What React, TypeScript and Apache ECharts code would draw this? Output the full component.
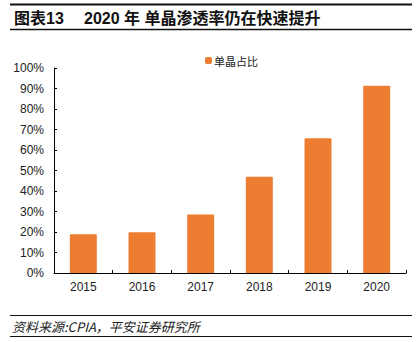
import React, { useEffect, useRef } from "react";
import * as echarts from "echarts";

const categories = ["2015", "2016", "2017", "2018", "2019", "2020"];
const monoShare = [18.9, 19.9, 28.5, 47.0, 65.7, 91.4];
const seriesName = "单晶占比";
const titleLeft = "图表13";
const titleRight = "2020 年 单晶渗透率仍在快速提升";
const sourceText = "资料来源:CPIA，平安证券研究所";

export default function App() {
  const ref = useRef<HTMLDivElement>(null);
  useEffect(() => {
    if (!ref.current) return;
    const chart = echarts.init(ref.current, undefined, { renderer: "svg" });
    const font = "Liberation Sans, Arial, Noto Sans CJK SC, sans-serif";
    const titleFont = "bold 16px 'Liberation Sans', 'Noto Sans CJK SC', sans-serif";
    chart.setOption({
      animation: false,
      backgroundColor: "#ffffff",
      textStyle: { fontFamily: font },
      grid: { left: 54, right: 11, top: 68, bottom: 69, containLabel: false },
      legend: {
        data: [seriesName],
        left: 200,
        top: 50,
        itemWidth: 7,
        itemHeight: 7,
        icon: "roundRect",
        textStyle: { fontSize: 11, color: "#222", fontFamily: "Noto Sans CJK SC", padding: [0, 0, 0, -3] },
      },
      xAxis: {
        type: "category",
        data: categories,
        axisLine: { lineStyle: { color: "#000", width: 1 } },
        axisTick: { show: true, inside: true, length: 3, lineStyle: { color: "#000" } },
        axisLabel: { color: "#222", fontSize: 12, margin: 8, fontFamily: font },
      },
      yAxis: {
        type: "value",
        min: 0,
        max: 100,
        interval: 10,
        axisLine: { show: true, lineStyle: { color: "#000", width: 1 } },
        axisTick: { show: true, inside: true, length: 3, lineStyle: { color: "#000" } },
        splitLine: { show: false },
        axisLabel: { color: "#222", fontSize: 12, margin: 10, formatter: "{value}%", fontFamily: font },
      },
      series: [
        {
          name: seriesName,
          type: "bar",
          data: monoShare,
          barWidth: "46%",
          itemStyle: { color: "#ED7D31", borderRadius: [1, 1, 0, 0] },
        },
      ],
      graphic: [
        { type: "line", shape: { x1: 10, y1: 4.5, x2: 412, y2: 4.5 }, style: { stroke: "#111", lineWidth: 2 } },
        { type: "line", shape: { x1: 10, y1: 29.5, x2: 412, y2: 29.5 }, style: { stroke: "#111", lineWidth: 1.5 } },
        {
          type: "text",
          x: 14,
          y: 18,
          style: { text: titleLeft, fill: "#111", font: titleFont, verticalAlign: "middle" },
        },
        {
          type: "text",
          x: 84,
          y: 18,
          style: { text: titleRight, fill: "#111", font: titleFont, verticalAlign: "middle" },
        },
        { type: "line", shape: { x1: 10, y1: 315.5, x2: 412, y2: 315.5 }, style: { stroke: "#111", lineWidth: 1 } },
        { type: "line", shape: { x1: 10, y1: 336.5, x2: 412, y2: 336.5 }, style: { stroke: "#111", lineWidth: 1 } },
        {
          type: "text",
          x: 12,
          y: 326,
          style: { text: sourceText, fill: "#222", font: "italic 13px 'Noto Sans CJK SC'", verticalAlign: "middle" },
        },
      ],
    });
    return () => chart.dispose();
  }, []);
  return <div ref={ref} style={{ position: "fixed", left: 0, top: 0, width: 417, height: 342 }} />;
}
